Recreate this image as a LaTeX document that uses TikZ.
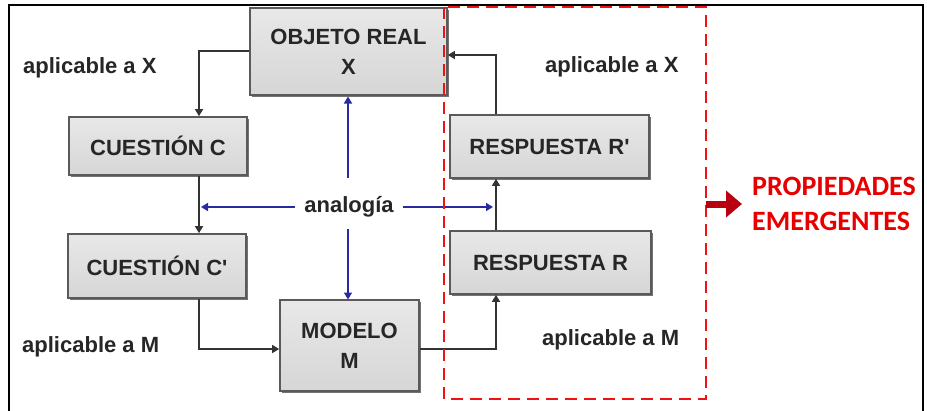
\documentclass[tikz,border=0pt]{standalone}
\usepackage{fontspec}
\setmainfont{Liberation Sans}
\newfontfamily\calfont{Carlito}
\usetikzlibrary{arrows.meta}
\definecolor{boxfill}{HTML}{D6D6D6}
\definecolor{boxtop}{HTML}{E8E8E8}
\definecolor{boxedge}{HTML}{5A5A5A}
\definecolor{anablue}{HTML}{2A2AA0}
\definecolor{dashred}{HTML}{F21010}
\definecolor{arrred}{HTML}{B80010}
\definecolor{txtred}{HTML}{E80000}
\tikzset{
  box/.style={draw=boxedge, line width=1.6pt, top color=boxtop, bottom color=boxfill,
    align=center, inner sep=0pt, font=\bfseries\fontsize{22}{30}\selectfont,
    text=black!85},
  shadowbox/.style={fill=black!55, draw=none},
  flow/.style={draw=black!80, line width=1.3pt, -{Triangle[length=7pt,width=8pt]}},
  ana/.style={draw=anablue, line width=1.5pt, -{Triangle[length=7pt,width=8pt]}},
  lbl/.style={font=\bfseries\fontsize{22}{26}\selectfont, text=black!85, inner sep=0pt},
  redlbl/.style={font=\calfont\bfseries\fontsize{28}{32}\selectfont, text=txtred, inner sep=0pt, anchor=west}
}
\begin{document}
\begin{tikzpicture}[x=1pt,y=-1pt]
\useasboundingbox (0,0) rectangle (927,410);
\fill[white] (0,0) rectangle (927,410);
% outer frame
\draw[black, line width=2.5pt] (9,5) rectangle (923,412);

% shadows
\fill[shadowbox] (252,10) rectangle (449,97);
\fill[shadowbox] (71,119) rectangle (249,177);
\fill[shadowbox] (70,236) rectangle (248,300);
\fill[shadowbox] (282,302) rectangle (421,393);
\fill[shadowbox] (452,117) rectangle (651,180);
\fill[shadowbox] (452,233) rectangle (653,296);

% boxes
\node[box, minimum width=197pt, minimum height=87pt] (obj) at (348.5,51.5) {OBJETO REAL\\X};
\node[box, minimum width=178pt, minimum height=58pt] (cc) at (158,146) {CUESTIÓN C};
\node[box, minimum width=178pt, minimum height=64pt] (cc2) at (157,266) {CUESTIÓN C\textquotesingle};
\node[box, minimum width=139pt, minimum height=91pt] (mod) at (349.5,345.5) {MODELO\\M};
\node[box, minimum width=199pt, minimum height=63pt] (rr2) at (549.5,146.5) {RESPUESTA R\textquotesingle};
\node[box, minimum width=201pt, minimum height=63pt] (rr) at (550.5,262.5) {RESPUESTA R};

% labels
\node[lbl, anchor=west] (lx1) at (23,68) {aplicable a X};
\node[lbl, anchor=west] (lx2) at (545,67) {aplicable a X};
\node[lbl, anchor=west] (lm1) at (22,347) {aplicable a M};
\node[lbl, anchor=west] (lm2) at (542,340) {aplicable a M};
\node[lbl, inner sep=6pt] (ana) at (349,207) {analogía};

% flow connectors
\coordinate (c1) at (199,51);
\draw[flow] (obj.west |- c1) -- (c1) -- (c1 |- cc.north);
\draw[flow] (cc.south -| c1) -- (c1 |- cc2.north);
\coordinate (c2) at (199,349);
\draw[flow] (cc2.south -| c2) -- (c2) -- (c2 -| mod.west);
\coordinate (c3) at (496,349);
\draw[flow] (mod.east |- c3) -- (c3) -- (c3 |- rr.south);
\draw[flow] (rr.north -| c3) -- (c3 |- rr2.south);
\coordinate (c4) at (496,55);
\draw[flow] (rr2.north -| c4) -- (c4) -- (c4 -| obj.east);

% analogy arrows
\coordinate (al) at (201,207);
\coordinate (ar) at (493,207);
\draw[ana] (ana.west) ++(-3,0) -- (al);
\draw[ana] (ana.east) ++(3,0) -- (ar);
\draw[ana] (348,178) -- (348 ,96.5);
\draw[ana] (348,229) -- (348,299.5);

% dashed red region
\draw[dashred, line width=2.8pt, dash pattern=on 12pt off 7pt] (444,7) rectangle (706,399);

% emergent properties
\coordinate (ra) at (706,204);
\coordinate (rb) at (742,204);
\draw[arrred, line width=7pt, -{Triangle[length=16pt,width=26pt]}] (ra) -- (rb);
\node[redlbl] (p1) at (752,186) {PROPIEDADES};
\node[redlbl] (p2) at (752,221) {EMERGENTES};
\end{tikzpicture}
\end{document}
